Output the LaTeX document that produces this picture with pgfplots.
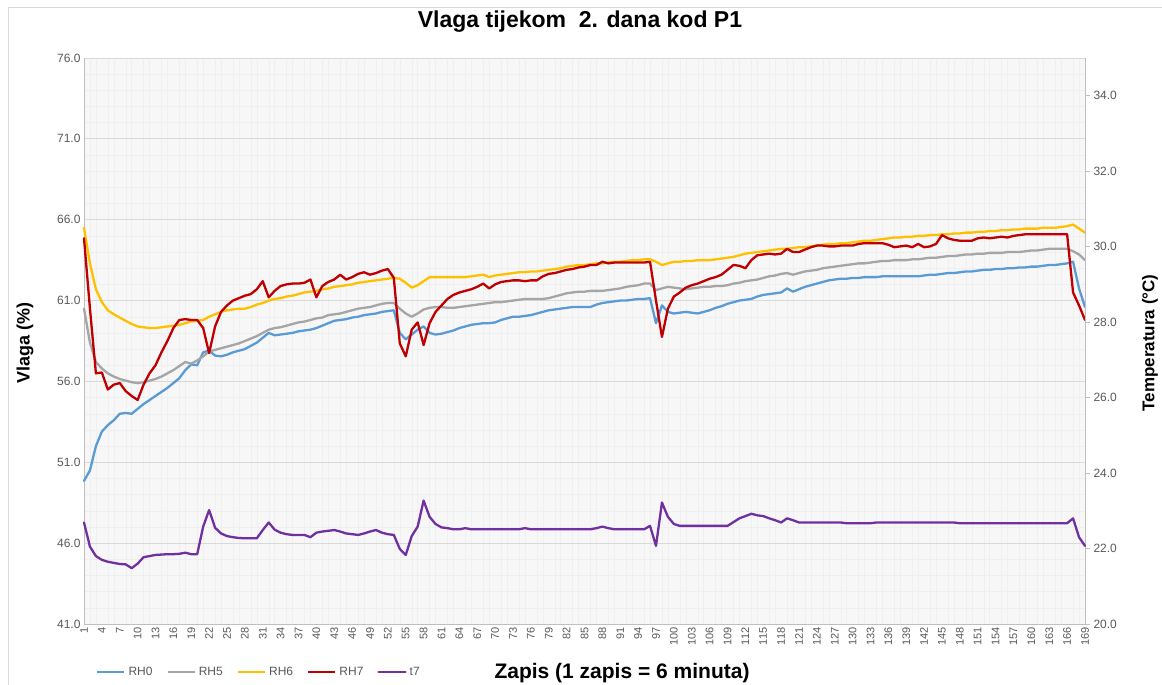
\documentclass[border=0pt]{standalone}
\usepackage{fontspec}
\setmainfont{Liberation Sans}
\usepackage{pgfplots}
\usepackage{pgfplotstable}
\pgfplotsset{compat=1.18}
\definecolor{cRH0}{HTML}{5B9BD5}
\definecolor{cRH5}{HTML}{A5A5A5}
\definecolor{cRH6}{HTML}{FFC000}
\definecolor{cRH7}{HTML}{C00000}
\definecolor{cT7}{HTML}{7030A0}
\definecolor{gridc}{HTML}{D9D9D9}
\definecolor{mgrid}{HTML}{EFEFEF}
\definecolor{bgc}{HTML}{F7F7F7}
\definecolor{tickc}{HTML}{595959}
\definecolor{axc}{HTML}{BFBFBF}

\pgfplotstableread{
i rh0 rh5 rh6 rh7 t7
1 49.85 60.5 65.5 64.85 22.69
2 50.5 58.4 63.3 60.5 22.05
3 52.0 57.2 61.7 56.5 21.80
4 52.9 56.8 60.9 56.55 21.70
5 53.3 56.5 60.4 55.5 21.65
6 53.6 56.3 60.15 55.8 21.62
7 54.0 56.15 59.95 55.9 21.59
8 54.05 56.05 59.75 55.4 21.58
9 54.0 55.95 59.55 55.1 21.48
10 54.3 55.9 59.4 54.85 21.60
11 54.6 55.95 59.35 55.8 21.77
12 54.85 56.05 59.3 56.5 21.80
13 55.1 56.15 59.3 57.0 21.83
14 55.35 56.3 59.35 57.8 21.84
15 55.6 56.5 59.4 58.5 21.85
16 55.9 56.7 59.45 59.3 21.85
17 56.2 56.95 59.5 59.8 21.86
18 56.7 57.2 59.6 59.85 21.89
19 57.05 57.1 59.7 59.8 21.85
20 57.0 57.3 59.75 59.8 21.85
21 57.8 57.55 59.8 59.3 22.58
22 57.9 57.85 60.0 57.75 23.02
23 57.6 57.95 60.15 59.4 22.55
24 57.55 58.05 60.3 60.3 22.40
25 57.65 58.15 60.4 60.7 22.33
26 57.8 58.25 60.45 61.0 22.30
27 57.9 58.35 60.5 61.15 22.28
28 58.0 58.5 60.5 61.3 22.27
29 58.2 58.65 60.6 61.4 22.27
30 58.4 58.8 60.75 61.7 22.27
31 58.7 59.0 60.85 62.2 22.49
32 59.0 59.2 61.0 61.2 22.69
33 58.85 59.3 61.1 61.6 22.50
34 58.9 59.35 61.15 61.9 22.42
35 58.95 59.45 61.25 62.0 22.38
36 59.0 59.55 61.3 62.05 22.36
37 59.1 59.65 61.4 62.05 22.36
38 59.15 59.7 61.5 62.1 22.36
39 59.2 59.8 61.55 62.3 22.30
40 59.3 59.9 61.6 61.2 22.42
41 59.45 59.95 61.7 61.9 22.45
42 59.6 60.1 61.75 62.15 22.47
43 59.75 60.15 61.85 62.3 22.49
44 59.8 60.2 61.9 62.6 22.45
45 59.85 60.3 61.95 62.3 22.40
46 59.95 60.4 62.0 62.45 22.38
47 60.0 60.5 62.1 62.65 22.36
48 60.1 60.55 62.15 62.75 22.40
49 60.15 60.6 62.2 62.6 22.45
50 60.2 60.7 62.25 62.7 22.49
51 60.3 60.8 62.3 62.85 22.42
52 60.35 60.85 62.35 62.95 22.38
53 60.4 60.85 62.4 62.4 22.36
54 59.0 60.5 62.35 58.35 21.99
55 58.6 60.2 62.1 57.55 21.83
56 58.9 60.0 61.8 59.2 22.33
57 59.2 60.2 61.95 59.65 22.58
58 59.4 60.45 62.2 58.25 23.27
59 59.0 60.55 62.45 59.6 22.84
60 58.9 60.6 62.45 60.3 22.65
61 58.95 60.6 62.45 60.7 22.56
62 59.05 60.55 62.45 61.1 22.54
63 59.15 60.55 62.45 61.35 22.51
64 59.3 60.6 62.45 61.5 22.51
65 59.4 60.65 62.45 61.6 22.54
66 59.5 60.7 62.5 61.7 22.51
67 59.55 60.75 62.55 61.85 22.51
68 59.6 60.8 62.6 62.05 22.51
69 59.6 60.85 62.45 61.75 22.51
70 59.65 60.9 62.55 62.0 22.51
71 59.8 60.9 62.6 62.15 22.51
72 59.9 60.95 62.65 62.2 22.51
73 60.0 61.0 62.7 62.25 22.51
74 60.0 61.05 62.75 62.25 22.51
75 60.05 61.1 62.75 62.2 22.54
76 60.1 61.1 62.8 62.25 22.51
77 60.2 61.1 62.8 62.25 22.51
78 60.3 61.1 62.85 62.5 22.51
79 60.4 61.15 62.9 62.65 22.51
80 60.45 61.25 62.95 62.7 22.51
81 60.5 61.35 63.0 62.8 22.51
82 60.55 61.45 63.1 62.9 22.51
83 60.6 61.5 63.15 62.95 22.51
84 60.6 61.55 63.2 63.05 22.51
85 60.6 61.55 63.2 63.1 22.51
86 60.6 61.6 63.25 63.2 22.51
87 60.75 61.6 63.3 63.2 22.54
88 60.85 61.6 63.3 63.4 22.58
89 60.9 61.65 63.35 63.3 22.54
90 60.95 61.7 63.4 63.35 22.51
91 61.0 61.75 63.4 63.35 22.51
92 61.0 61.85 63.45 63.35 22.51
93 61.05 61.9 63.5 63.35 22.51
94 61.1 61.95 63.5 63.35 22.51
95 61.1 62.05 63.55 63.35 22.51
96 61.15 62.05 63.55 63.4 22.60
97 59.6 61.65 63.4 61.0 22.07
98 60.7 61.75 63.2 58.75 23.22
99 60.3 61.85 63.3 60.5 22.84
100 60.2 61.8 63.4 61.25 22.65
101 60.25 61.75 63.4 61.5 22.60
102 60.3 61.7 63.45 61.8 22.60
103 60.25 61.75 63.45 61.95 22.60
104 60.2 61.8 63.5 62.05 22.60
105 60.3 61.85 63.5 62.2 22.60
106 60.4 61.85 63.5 62.35 22.60
107 60.55 61.9 63.55 62.45 22.60
108 60.65 61.9 63.6 62.6 22.60
109 60.8 61.95 63.65 62.9 22.60
110 60.9 62.05 63.7 63.2 22.70
111 61.0 62.1 63.8 63.15 22.80
112 61.05 62.2 63.9 63.0 22.86
113 61.1 62.25 63.95 63.5 22.92
114 61.25 62.3 64.0 63.8 22.88
115 61.35 62.4 64.05 63.85 22.86
116 61.4 62.5 64.1 63.9 22.80
117 61.45 62.55 64.15 63.85 22.75
118 61.5 62.65 64.2 63.9 22.69
119 61.75 62.7 64.2 64.2 22.80
120 61.55 62.6 64.25 64.0 22.75
121 61.7 62.7 64.3 64.0 22.69
122 61.85 62.8 64.3 64.15 22.69
123 61.95 62.85 64.35 64.3 22.69
124 62.05 62.9 64.4 64.4 22.69
125 62.15 63.0 64.45 64.4 22.69
126 62.25 63.05 64.5 64.35 22.69
127 62.3 63.1 64.5 64.35 22.69
128 62.35 63.15 64.55 64.4 22.69
129 62.35 63.2 64.55 64.4 22.67
130 62.4 63.25 64.6 64.4 22.67
131 62.4 63.3 64.65 64.5 22.67
132 62.45 63.3 64.7 64.55 22.67
133 62.45 63.35 64.7 64.55 22.67
134 62.45 63.4 64.75 64.55 22.69
135 62.5 63.45 64.8 64.55 22.69
136 62.5 63.45 64.85 64.45 22.69
137 62.5 63.5 64.9 64.3 22.69
138 62.5 63.5 64.9 64.35 22.69
139 62.5 63.5 64.95 64.4 22.69
140 62.5 63.55 64.95 64.3 22.69
141 62.5 63.55 65.0 64.5 22.69
142 62.55 63.6 65.0 64.3 22.69
143 62.6 63.65 65.05 64.35 22.69
144 62.6 63.65 65.05 64.5 22.69
145 62.65 63.7 65.1 65.05 22.69
146 62.7 63.75 65.1 64.85 22.69
147 62.7 63.75 65.15 64.75 22.69
148 62.75 63.8 65.15 64.7 22.67
149 62.8 63.85 65.2 64.7 22.67
150 62.8 63.85 65.2 64.7 22.67
151 62.85 63.9 65.25 64.85 22.67
152 62.9 63.9 65.25 64.9 22.67
153 62.9 63.95 65.3 64.85 22.67
154 62.95 63.95 65.3 64.9 22.67
155 62.95 63.95 65.35 64.95 22.67
156 63.0 64.0 65.35 64.9 22.67
157 63.0 64.0 65.4 65.0 22.67
158 63.05 64.0 65.4 65.05 22.67
159 63.05 64.05 65.45 65.1 22.67
160 63.1 64.1 65.45 65.1 22.67
161 63.1 64.1 65.45 65.1 22.67
162 63.15 64.15 65.5 65.1 22.67
163 63.2 64.2 65.5 65.1 22.67
164 63.2 64.2 65.5 65.1 22.67
165 63.25 64.2 65.55 65.1 22.67
166 63.3 64.2 65.6 65.1 22.67
167 63.4 64.05 65.7 61.5 22.80
168 61.75 63.85 65.45 60.7 22.30
169 60.6 63.5 65.2 59.8 22.07
}\data

\pgfplotsset{
  common/.style={
    at={(84pt,61pt)}, anchor=south west,
    scale only axis, width=1001pt, height=566pt,
    xmin=1, xmax=169,
    /pgf/number format/assume math mode=true,
    clip=false,
  },
  ser/.style={line width=2.3pt, line join=round, line cap=round, mark=none},
}

\begin{document}
\begin{tikzpicture}[x=1pt,y=1pt]
\useasboundingbox (0,0) rectangle (1162,685);
\fill[white] (0,0) rectangle (1162,685);
\draw[gray!30, line width=0.8pt] (8.5,0) -- (8.5,677.5) -- (1162,677.5);

\begin{axis}[common,
  ymin=41, ymax=76, ytick={41,46,...,76},
  xtick={1,4,...,169},
  axis y line*=left, axis x line*=bottom,
  axis line style={draw=axc, line width=0.8pt},
  axis background/.style={fill=bgc},
  ymajorgrids, major grid style={draw=gridc, line width=0.8pt},
  minor y tick num=4, yminorgrids, minor x tick num=2, xminorgrids,
  minor grid style={draw=mgrid, line width=0.4pt},
  major tick length=0pt, minor tick length=0pt,
  tick style={draw=none},
  yticklabel style={font=\fontsize{12}{14}\selectfont, color=tickc,
     /pgf/number format/.cd, fixed, fixed zerofill, precision=1},
  xticklabel style={font=\fontsize{11}{13}\selectfont, color=tickc, rotate=90, anchor=east},
]
\addplot[ser, cRH0] table[x=i, y=rh0] {\data};
\addplot[ser, cRH5] table[x=i, y=rh5] {\data};
\addplot[ser, cRH6] table[x=i, y=rh6] {\data};
\addplot[ser, cRH7] table[x=i, y=rh7] {\data};
\end{axis}

\begin{axis}[common,
  ymin=20, ymax=35, ytick={20,22,...,34},
  axis y line*=right, axis x line=none,
  axis line style={draw=axc, line width=0.8pt},
  ytick style={draw=axc, line width=0.8pt},
  major tick length=5pt, tick align=outside,
  xtick=\empty,
  yticklabel style={font=\fontsize{12}{14}\selectfont, color=tickc,
     /pgf/number format/.cd, fixed, fixed zerofill, precision=1},
  legend style={at={(0.009,-0.0848)}, anchor=west, draw=none, fill=none,
     font=\fontsize{12}{14}\selectfont, text=tickc,
     /tikz/every odd column/.append style={column sep=1pt},
     /tikz/every even column/.append style={column sep=12pt}},
  legend columns=5,
  legend image code/.code={\draw[#1, line width=2.3pt] (0pt,0pt) -- (27pt,0pt);},
]
\addlegendimage{cRH0}\addlegendentry{RH0}
\addlegendimage{cRH5}\addlegendentry{RH5}
\addlegendimage{cRH6}\addlegendentry{RH6}
\addlegendimage{cRH7}\addlegendentry{RH7}
\addplot[ser, cT7] table[x=i, y=t7] {\data};
\addlegendentry{t7}
\end{axis}

\node[font=\bfseries\fontsize{23}{26}\selectfont] at (580,663) {Vlaga tijekom\ \ 2. dana kod P1};
\node[font=\bfseries\fontsize{18}{21}\selectfont, rotate=90] at (25,342) {Vlaga (\%)};
\node[font=\bfseries\fontsize{17}{20}\selectfont, rotate=90] at (1150,342) {Temperatura (°C)};
\node[font=\bfseries\fontsize{21}{24}\selectfont] at (622,12) {Zapis (1 zapis = 6 minuta)};
\end{tikzpicture}
\end{document}
